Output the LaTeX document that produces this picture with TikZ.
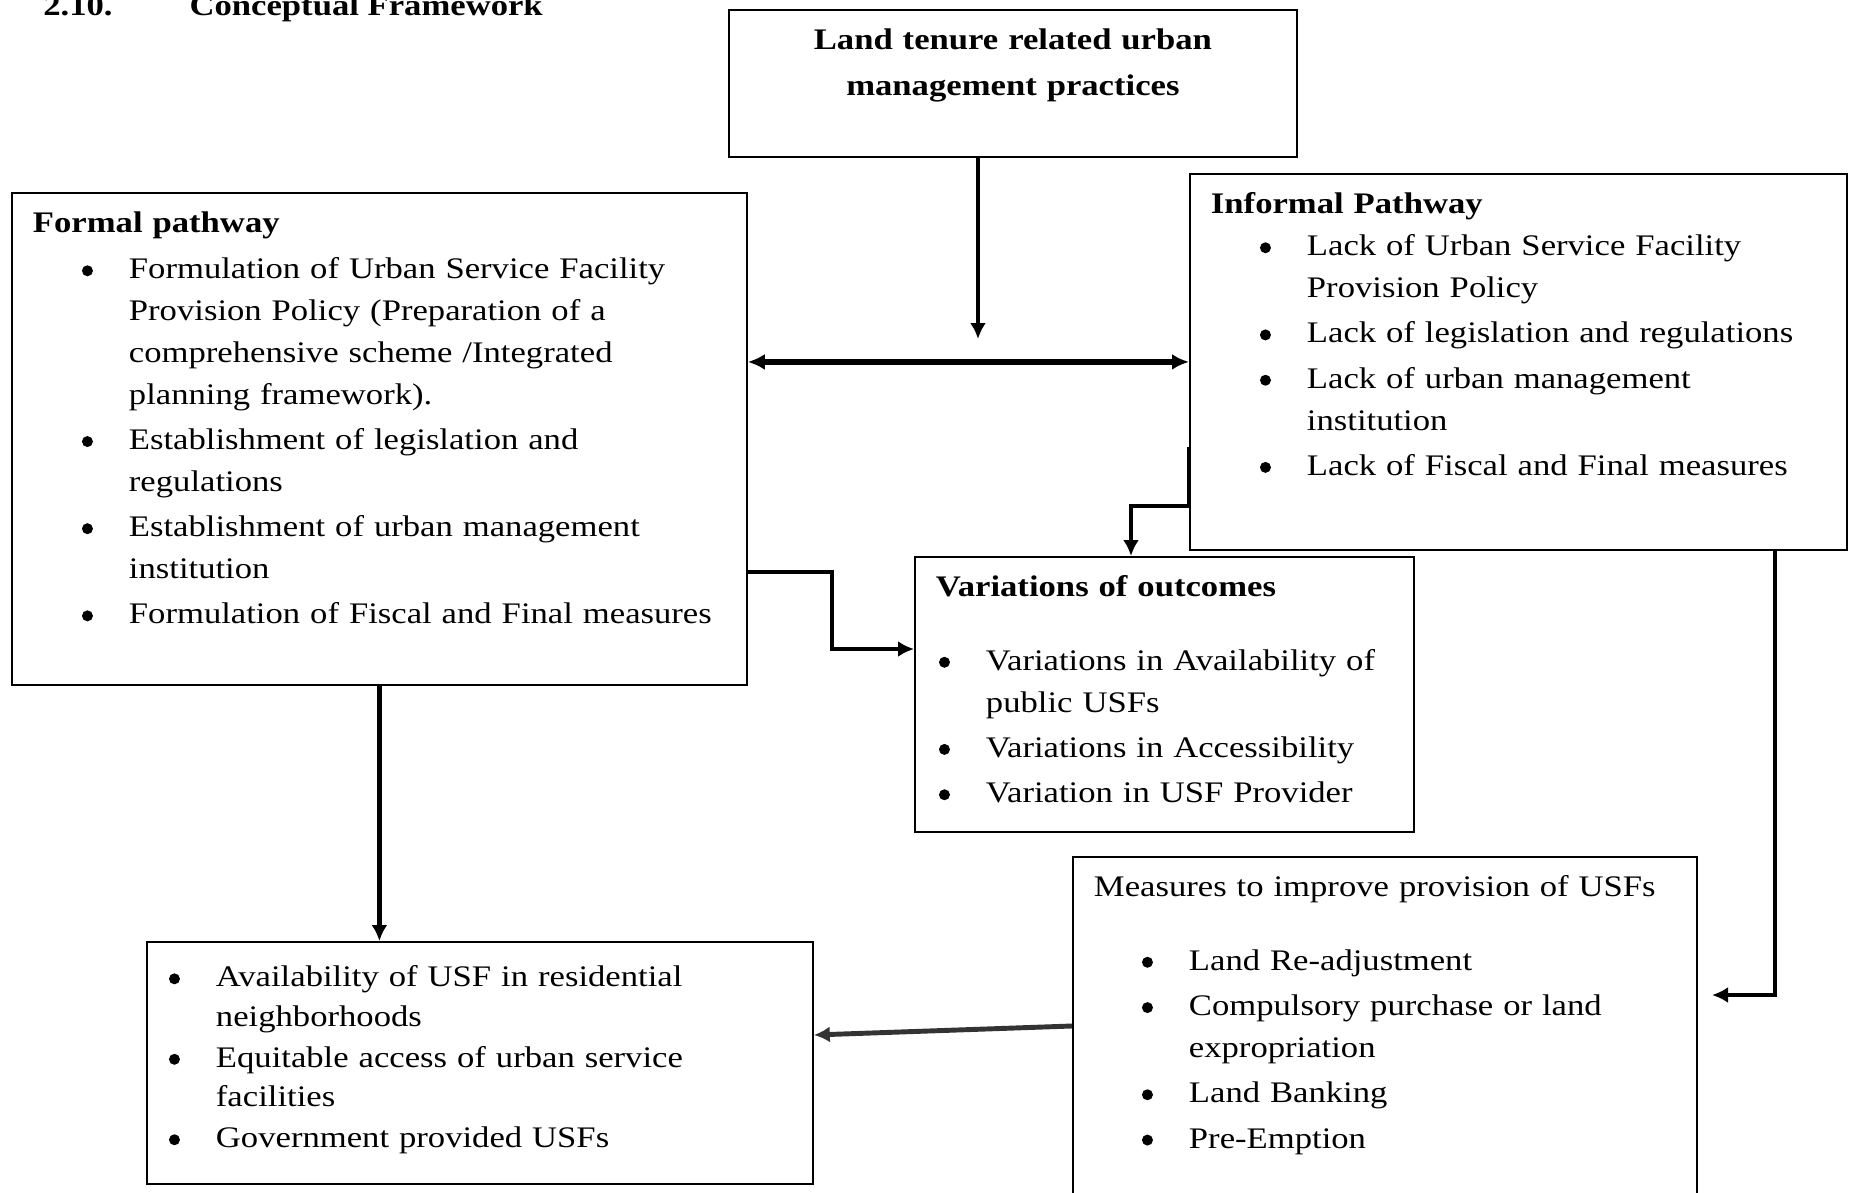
\documentclass[tikz,border=0pt]{standalone}
\usepackage{fontspec}
\setmainfont{Liberation Serif}[FakeStretch=1.16]
\usepackage{enumitem}
\usetikzlibrary{arrows.meta,positioning,calc}
\newcommand{\dotmark}{\tikz[baseline=-0.16cm]\fill (0,0) circle (0.11cm);}
\setlist[itemize]{topsep=0pt,partopsep=0pt,parsep=0pt,itemsep=2pt,labelsep=0.72cm,rightmargin=-2cm,label=\dotmark}

\begin{document}
\begin{tikzpicture}[
    x=0.02cm, y=-0.02cm,
    box/.style={rectangle, draw, line width=1.1pt, anchor=north west, align=left, inner xsep=0.42cm, inner ysep=0.2cm, text height=0.6cm, font=\fontsize{17}{23.8}\selectfont},
    arrow/.style={-{Latex[length=0.32cm,width=0.32cm]}, line width=2.8pt}
]
    \useasboundingbox (0,0) rectangle (1853,1193);
    \clip (0,0) rectangle (1853,1193);

    % Heading
    \node[anchor=base west, inner sep=0pt, font=\fontsize{17}{23.8}\selectfont\bfseries] (title) at (43,16) {2.10.\hspace{1.54cm}Conceptual Framework};

    % Practices
    \node[box, align=center, text width=10.52cm, text depth=1.94cm] (tenure) at (728,9) {\textbf{Land tenure related urban}\\[2pt]\textbf{management practices}};

    % Two pathways
    \node[box, text width=13.86cm, text depth=8.84cm] (formal) at (11,192) {\textbf{Formal pathway}
        \begin{itemize}[leftmargin=1.92cm, topsep=0.08cm]
        \item Formulation of Urban Service Facility\\Provision Policy (Preparation of a\\comprehensive scheme /Integrated\\planning framework).
        \item Establishment of legislation and\\regulations
        \item Establishment of urban management\\institution
        \item Formulation of Fiscal and Final measures
        \end{itemize}};
    \node[box, text width=12.30cm, text depth=6.52cm] (informal) at (1189,173) {\textbf{Informal Pathway}
        \begin{itemize}[leftmargin=1.92cm]
        \item Lack of Urban Service Facility\\Provision Policy
        \item Lack of legislation and regulations
        \item Lack of urban management\\institution
        \item Lack of Fiscal and Final measures
        \end{itemize}};

    % Outcomes
    \node[box, text width=9.14cm, text depth=4.5cm] (variations) at (914,556) {\textbf{Variations of outcomes}
        \begin{itemize}[leftmargin=1.0cm, topsep=0.63cm]
        \item Variations in Availability of\\public USFs
        \item Variations in Accessibility
        \item Variation in USF Provider
        \end{itemize}};

    % Measures
    \node[box, text width=11.64cm, text depth=7cm] (measures) at (1072,856) {Measures to improve provision of USFs
        \begin{itemize}[leftmargin=1.9cm, topsep=0.63cm]
        \item Land Re-adjustment
        \item Compulsory purchase or land\\expropriation
        \item Land Banking
        \item Pre-Emption
        \end{itemize}};

    % Final state
    \node[box, text width=12.48cm, text height=0cm, text depth=4.44cm, font=\fontsize{17}{22.4}\selectfont] (outcomes) at (146,941) {%
        \vspace*{-0.09cm}
        \begin{itemize}[leftmargin=0.96cm, itemsep=1pt]
        \item Availability of USF in residential\\neighborhoods
        \item Equitable access of urban service\\facilities
        \item Government provided USFs
        \end{itemize}};

    % Arrows
    \coordinate (meet) at (978,339);
    \coordinate (bend) at (1131,506);
    \coordinate (kink) at (832,649);
    \coordinate (mIn) at (1712,995);
    \draw[arrow] (tenure.south -| meet) -- (meet);
    \draw[arrow, {Latex[length=0.34cm,width=0.32cm]}-{Latex[length=0.34cm,width=0.32cm]}, line width=3pt] (formal.east |- informal.west) -- (informal.west);
    \draw[arrow] (informal.west |- 0,447) |- (bend) -- (bend |- variations.north);
    \draw[arrow] (formal.east |- 0,572) -| (kink) -- (kink -| variations.west);
    \draw[arrow] (formal.south) -- (formal.south |- outcomes.north);
    \draw[arrow] (informal.south -| 1775,0) |- (mIn);
    \draw[arrow, black!80] (measures.west |- 0,1026) -- (outcomes.east |- 0,1035);
\end{tikzpicture}
\end{document}
